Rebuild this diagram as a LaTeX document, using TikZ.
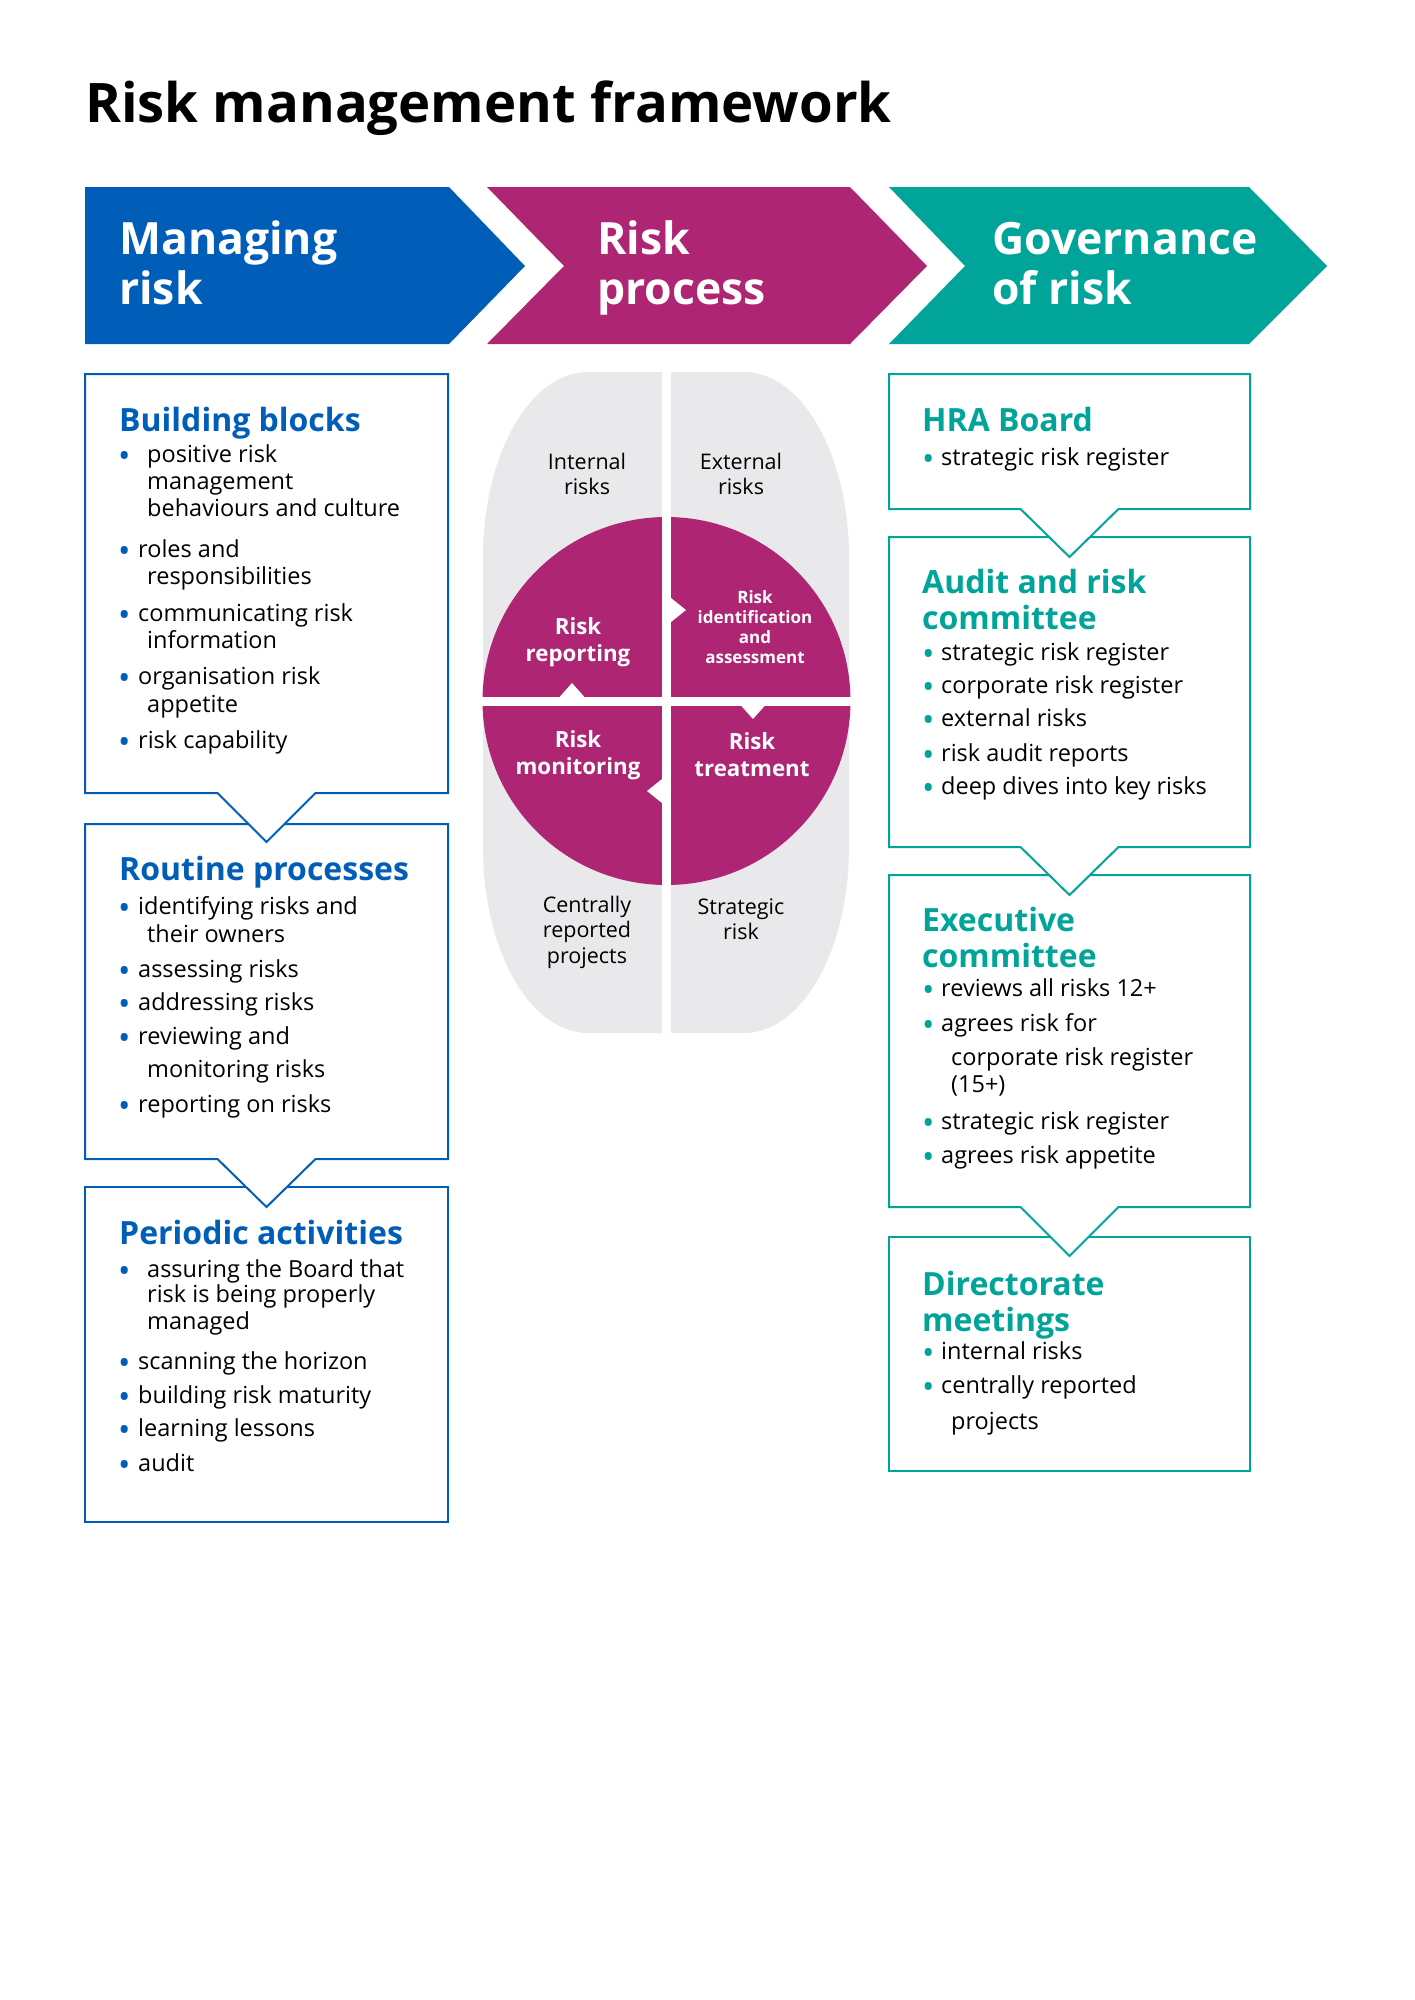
\documentclass[tikz,border=0pt]{standalone}
\usepackage{fontspec}
\setmainfont{Open Sans}
\usepackage{xcolor}
\usetikzlibrary{shapes.callouts}
\definecolor{nhsblue}{HTML}{005EB8}
\definecolor{nhspink}{HTML}{AE2573}
\definecolor{nhsteal}{HTML}{00A499}
\definecolor{pillgrey}{HTML}{E9E9EC}
\newcommand{\bbul}[1][14pt]{\makebox[#1][l]{\hspace*{-6pt}\raisebox{-5.5pt}{\fontsize{33}{27}\selectfont\textcolor{nhsblue}{\textbullet}}}}
\newcommand{\tbul}[1][13pt]{\makebox[#1][l]{\hspace*{-6pt}\raisebox{-5.5pt}{\fontsize{33}{27}\selectfont\textcolor{nhsteal}{\textbullet}}}}
\newcommand{\cont}{\hspace*{23pt}}

\begin{document}
\begin{tikzpicture}[x=1pt,y=-1pt,
  titletxt/.style={anchor=base west, inner sep=0, font=\fontsize{54.5}{60}\selectfont\bfseries},
  chevtxt/.style={anchor=base west, inner sep=0, align=left, text=white, font=\fontsize{44.5}{50}\selectfont\bfseries},
  lbox/.style={rectangle callout, draw=nhsblue, fill=white, line width=2pt, inner sep=0, minimum width=363pt, callout pointer width=98pt},
  rbox/.style={lbox, draw=nhsteal, minimum width=361pt},
  lhead/.style={anchor=base west, inner sep=0, align=left, text=nhsblue, font=\fontsize{32}{36}\selectfont\bfseries},
  rhead/.style={lhead, text=nhsteal},
  bodytxt/.style={anchor=base west, inner sep=0, align=left, font=\fontsize{23.5}{27}\selectfont},
  greytxt/.style={align=center, inner sep=0, font=\fontsize{21.5}{25.5}\selectfont},
  wheeltxt/.style={align=center, inner sep=0, text=white, font=\fontsize{22.3}{27}\selectfont\bfseries},
  gapline/.style={white, line width=9pt},
  notchtri/.style={fill=white, draw=none}]
\useasboundingbox (0,0) rectangle (1414,2000);

\node[titletxt] (ttl) at (85,122) {Risk management framework};

\fill[nhsblue] (85,187) -- (449,187) -- (525,266) -- (449,344) -- (85,344) -- cycle;
\fill[nhspink] (487,187) -- (850,187) -- (927,266) -- (850,344) -- (487,344) -- (564,266) -- cycle;
\fill[nhsteal] (889,187) -- (1249,187) -- (1327,266) -- (1249,344) -- (889,344) -- (965,266) -- cycle;
\node[chevtxt] (mng) at (119,304) {Managing\\risk};
\node[chevtxt] (proc) at (597,304) {Risk\\process};
\node[chevtxt] (gov) at (992,304) {Governance\\of risk};

\node[lbox, rectangle, minimum height=335pt] (pa) at (266.5,1354.5) {};
\node[lbox, minimum height=335pt, callout absolute pointer={(266.5,1207)}] (rp) at (266.5,991.5) {};
\node[lbox, minimum height=419pt, callout absolute pointer={(266.5,842)}] (bb) at (266.5,583.5) {};

\node[rbox, rectangle, minimum height=234pt] (dir) at (1069.5,1354) {};
\node[rbox, minimum height=332pt, callout absolute pointer={(1069.5,1256)}] (exc) at (1069.5,1041) {};
\node[rbox, minimum height=310pt, callout absolute pointer={(1069.5,895)}] (arc) at (1069.5,692) {};
\node[rbox, minimum height=135pt, callout absolute pointer={(1069.5,557)}] (hra) at (1069.5,441.5) {};

\fill[pillgrey] (662,372) -- (588,372) arc[start angle=270, end angle=180, x radius=105, y radius=185]
  -- (483,848) arc[start angle=180, end angle=90, x radius=105, y radius=185] -- (662,1033) -- cycle;
\fill[pillgrey] (671,372) -- (744,372) arc[start angle=270, end angle=360, x radius=105, y radius=185]
  -- (849,848) arc[start angle=0, end angle=90, x radius=105, y radius=185] -- (671,1033) -- cycle;
\node[circle, fill=nhspink, inner sep=0, minimum size=368pt] (wheel) at (666.5,701) {};
\draw[gapline] (wheel.north) -- (wheel.south);
\draw[gapline] (wheel.west) -- (wheel.east);
\fill[notchtri] (666,594) -- (686,610) -- (666,626) -- cycle;
\fill[notchtri] (737,701) -- (753,719) -- (769,701) -- cycle;
\fill[notchtri] (667,775) -- (647,791) -- (667,807) -- cycle;
\fill[notchtri] (556,701) -- (572,683) -- (588,701) -- cycle;

\node[greytxt] (intr) at (587,474) {Internal\\risks};
\node[greytxt] (extr) at (741,474) {External\\risks};
\node[greytxt] (cent) at (587,932) {Centrally\\reported\\projects};
\node[greytxt] (strat) at (741,919) {Strategic\\risk};
\node[wheeltxt] (rrep) at (578,642) {Risk\\reporting};
\node[wheeltxt, font=\fontsize{17}{20}\selectfont\bfseries] (rid) at (755,627) {Risk\\identification\\and\\assessment};
\node[wheeltxt] (rmon) at (578,755) {Risk\\monitoring};
\node[wheeltxt] (rtre) at (752,755) {Risk\\treatment};

\node[lhead] (bbh) at (119,431) {Building blocks};
\node[bodytxt] (bbl) at (124,748) {\bbul[23pt]positive risk\\ \cont management\\ \cont behaviours and culture\\[14pt]
  \bbul roles and\\ \cont responsibilities\\[10pt]
  \bbul communicating risk\\ \cont information\\[9pt]
  \bbul organisation risk\\[1pt] \cont appetite\\[9pt]
  \bbul risk capability};
\node[lhead] (rph) at (119,880) {Routine processes};
\node[bodytxt] (rpl) at (124,1112) {\bbul identifying risks and\\[1pt] \cont their owners\\[8pt]
  \bbul assessing risks\\[6pt]
  \bbul addressing risks\\[7pt]
  \bbul reviewing and\\[6pt] \cont monitoring risks\\[8pt]
  \bbul reporting on risks};
\node[lhead] (pah) at (119,1244) {Periodic activities};
\node[bodytxt] (pal) at (124,1471) {\bbul[23pt]assuring the Board that\\[-2pt] \cont risk is being properly\\ \cont managed\\[13pt]
  \bbul scanning the horizon\\[7pt]
  \bbul building risk maturity\\[6pt]
  \bbul learning lessons\\[8pt]
  \bbul audit};

\node[rhead] (hrah) at (922,431) {HRA Board};
\node[bodytxt] (hral) at (928,465) {\tbul strategic risk register};
\node[rhead] (arch) at (922,629) {Audit and risk\\committee};
\node[bodytxt] (arcl) at (928,794) {\tbul strategic risk register\\[6pt]
  \tbul corporate risk register\\[6pt]
  \tbul external risks\\[8pt]
  \tbul risk audit reports\\[6pt]
  \tbul deep dives into key risks};
\node[rhead] (exch) at (922,967) {Executive\\committee};
\node[bodytxt] (excl) at (928,1163) {\tbul reviews all risks 12+\\[8pt]
  \tbul agrees risk for\\[7pt] \cont corporate risk register\\ \cont (15+)\\[10pt]
  \tbul strategic risk register\\[7pt]
  \tbul agrees risk appetite};
\node[rhead] (dirh) at (922,1331) {Directorate\\meetings};
\node[bodytxt] (dirl) at (928,1429) {\tbul internal risks\\[7pt]
  \tbul centrally reported\\[9pt] \cont projects};
\end{tikzpicture}
\end{document}
